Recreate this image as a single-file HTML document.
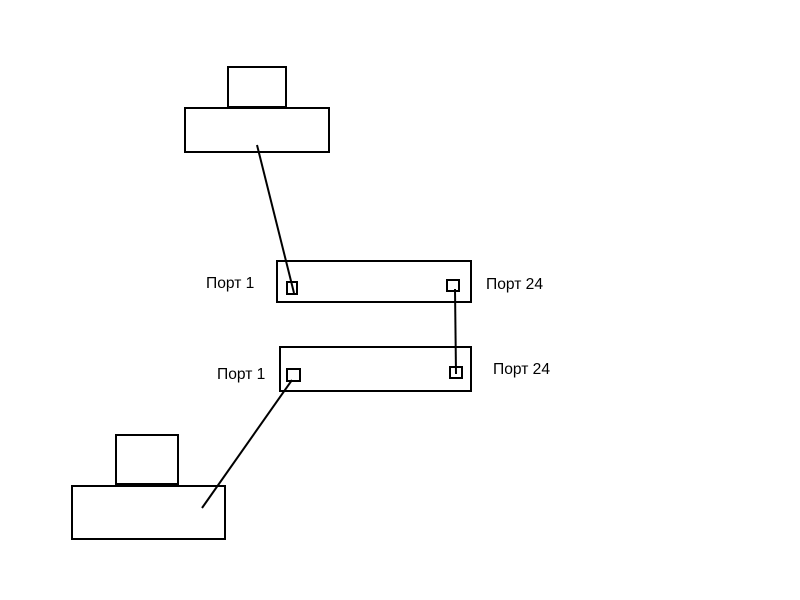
<!DOCTYPE html>
<html><head><style>body{margin:0;background:#fff}svg{display:block}</style></head><body>
<svg width="800" height="600" xmlns="http://www.w3.org/2000/svg" font-family="Liberation Sans, sans-serif" font-size="15.6">
<g fill="none" stroke="#000" stroke-width="2">
<rect x="228" y="67" width="58" height="40"/>
<rect x="185" y="108" width="144" height="44"/>
<rect x="277" y="261" width="194" height="41"/>
<rect x="280" y="347" width="191" height="44"/>
<rect x="287" y="282" width="10" height="12"/>
<rect x="447" y="280" width="12" height="11"/>
<rect x="287" y="369" width="13" height="12"/>
<rect x="450" y="367" width="12" height="11"/>
<rect x="116" y="435" width="62" height="49"/>
<rect x="72" y="486" width="153" height="53"/>
<line x1="257" y1="145" x2="294" y2="293"/>
<line x1="455" y1="289" x2="456" y2="374"/>
<line x1="292" y1="380" x2="202" y2="508"/>
</g>
<text x="206" y="288">Порт 1</text>
<text x="486" y="289">Порт 24</text>
<text x="217" y="379">Порт 1</text>
<text x="493" y="374">Порт 24</text>
</svg>
</body></html>
